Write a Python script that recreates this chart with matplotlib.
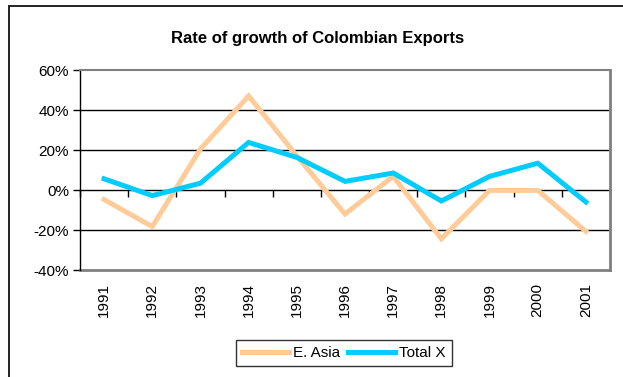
import matplotlib
matplotlib.use("Agg")
import matplotlib.pyplot as plt
from matplotlib.patches import Rectangle
from matplotlib.ticker import FuncFormatter
import matplotlib.transforms as mtransforms

plt.rcParams['font.family'] = ['Liberation Sans', 'DejaVu Sans']

years = ["1991", "1992", "1993", "1994", "1995", "1996", "1997", "1998", "1999", "2000", "2001"]
e_asia = [-0.048, -0.183, 0.205, 0.47, 0.17, -0.12, 0.068, -0.244, -0.002, -0.002, -0.207]
total_x = [0.056, -0.028, 0.034, 0.238, 0.163, 0.043, 0.085, -0.055, 0.068, 0.134, -0.06]
y_ticks = [-0.4, -0.2, 0.0, 0.2, 0.4, 0.6]

W, H = 623, 377
fig = plt.figure(figsize=(W / 100, H / 100), dpi=100)

# outer chart border
fig.patches.append(Rectangle((9 / W, -0.05), 1.2, 1 - 5.5 / H + 0.05, transform=fig.transFigure,
                             fill=False, edgecolor='#222222', linewidth=1.4))

ax = fig.add_axes([80 / W, (H - 270) / H, 530 / W, 200 / H])
x = list(range(len(years)))
ax.plot(x, e_asia, color='#FFCC99', linewidth=3.6, label='E. Asia', solid_joinstyle='miter')
ax.plot(x, total_x, color='#00CCFF', linewidth=3.6, label='Total X', solid_joinstyle='miter')

ax.set_xlim(-0.5, len(years) - 0.5)
ax.set_ylim(-0.4, 0.6)
ax.set_yticks(y_ticks)
ax.yaxis.set_major_formatter(FuncFormatter(lambda v, p: f"{v * 100:.0f}%"))
ax.tick_params(axis='y', direction='out', length=5, width=1, color='black', labelsize=11, pad=3)

for yv in [0.2, 0.4, -0.2]:
    ax.axhline(yv, color='black', linewidth=1, zorder=0.5)

# x axis crossing at 0 with tick marks at category boundaries
ax.spines['bottom'].set_position(('data', 0))
ax.spines['bottom'].set_color('black')
ax.spines['bottom'].set_linewidth(1)
ax.spines['bottom'].set_zorder(0.6)
ax.set_xticks([i - 0.5 for i in range(len(years) + 1)])
ax.tick_params(axis='x', direction='out', length=5, width=1, color='black', labelbottom=False)

ax.spines['left'].set_color('black')
ax.spines['left'].set_linewidth(1)
ax.spines['top'].set_color('#808080')
ax.spines['top'].set_linewidth(1.5)
ax.spines['right'].set_color('#808080')
ax.spines['right'].set_linewidth(2)
ax.plot([0, 1], [0, 0], transform=ax.transAxes, color='#808080', linewidth=2, clip_on=False)

trans = mtransforms.blended_transform_factory(ax.transData, ax.transAxes)
for i, yr in enumerate(years):
    ax.text(i, -0.065, yr, rotation=90, ha='center', va='top', fontsize=11, transform=trans)

fig.text(0.509, 0.8966, "Rate of growth of Colombian Exports", ha='center', va='center',
         fontsize=12, fontweight='bold')

leg = fig.legend(loc='center', bbox_to_anchor=(0.552, 0.0637), ncol=2, fontsize=11,
                 frameon=True, fancybox=False, handlelength=3.1, handletextpad=0.25,
                 columnspacing=0.5, borderpad=0.4, borderaxespad=0)
leg.get_frame().set_edgecolor('black')
leg.get_frame().set_linewidth(1)

fig.savefig('out.png', dpi=100)
